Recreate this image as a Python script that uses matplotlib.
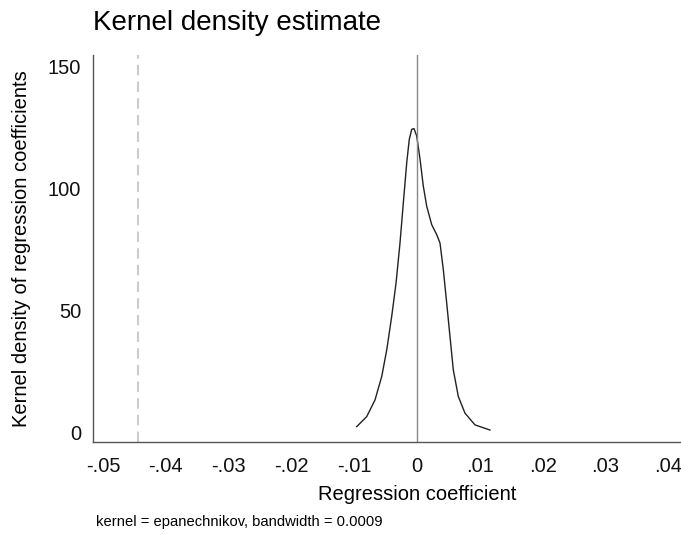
import matplotlib
matplotlib.use("Agg")
import matplotlib.pyplot as plt
import numpy as np

plt.rcParams['font.family'] = ['Liberation Sans', 'DejaVu Sans']

# Kernel density curve
coef_x = [-0.00960, -0.00801, -0.00669, -0.00562, -0.00482, -0.00403, -0.00334,
          -0.00271, -0.00218, -0.00164, -0.00123, -0.00084, -0.00048, -0.00005,
          0.00048, 0.00100, 0.00154, 0.00234, 0.00314, 0.00366, 0.00419,
          0.00473, 0.00525, 0.00578, 0.00658, 0.00764, 0.00924, 0.01162]
density_y = [2.6, 6.7, 13.5, 23.1, 34.0, 47.7, 61.3,
             77.7, 94.1, 110.5, 120.1, 124.2, 124.5, 121.5,
             112.0, 101.0, 92.8, 85.2, 81.1, 77.7, 66.8,
             53.1, 39.5, 25.8, 14.9, 8.1, 3.3, 1.2]

ref_zero = 0.0
ref_dashed = -0.0445

xticks = [-0.05, -0.04, -0.03, -0.02, -0.01, 0, 0.01, 0.02, 0.03, 0.04, 0.05]
xticklabels = ['-.05', '-.04', '-.03', '-.02', '-.01', '0', '.01', '.02', '.03', '.04', '.05']
yticks = [0, 50, 100, 150]

fig = plt.figure(figsize=(6.81, 5.35), dpi=100)
# plot region is wider than the picture (cropped on the right in the reference)
ax = fig.add_axes([0.1366, 0.1738, 0.9515, 0.7234])

ax.plot(coef_x, density_y, color='#222222', lw=1.0, solid_joinstyle='round')
ax.axvline(ref_zero, color='#888888', lw=1.0)
ax.axvline(ref_dashed, color='#cccccc', lw=1.5, ls=(0, (5, 3)))

ax.set_xlim(-0.0516, 0.0516)
ax.set_ylim(-3.7, 154.6)
ax.set_xticks(xticks)
ax.set_xticklabels(xticklabels)
ax.set_yticks(yticks)
ax.tick_params(length=0, labelsize=14.5, colors='#111111')
ax.tick_params(axis='x', pad=11)
ax.tick_params(axis='y', pad=8.5)

for s in ['top', 'right']:
    ax.spines[s].set_visible(False)
for s in ['left', 'bottom']:
    ax.spines[s].set_color('#555555')
    ax.spines[s].set_linewidth(1.0)

ax.set_xlabel('Regression coefficient', fontsize=14.5, labelpad=6)
ax.set_ylabel('Kernel density of regression coefficients', fontsize=14.5, labelpad=12)

fig.text(0.1366, 0.957, 'Kernel density estimate', fontsize=20, ha='left', va='center')
fig.text(0.141, 0.025, 'kernel = epanechnikov, bandwidth = 0.0009', fontsize=10.6, ha='left', va='center')

fig.savefig('out.png', dpi=100, facecolor='white')
